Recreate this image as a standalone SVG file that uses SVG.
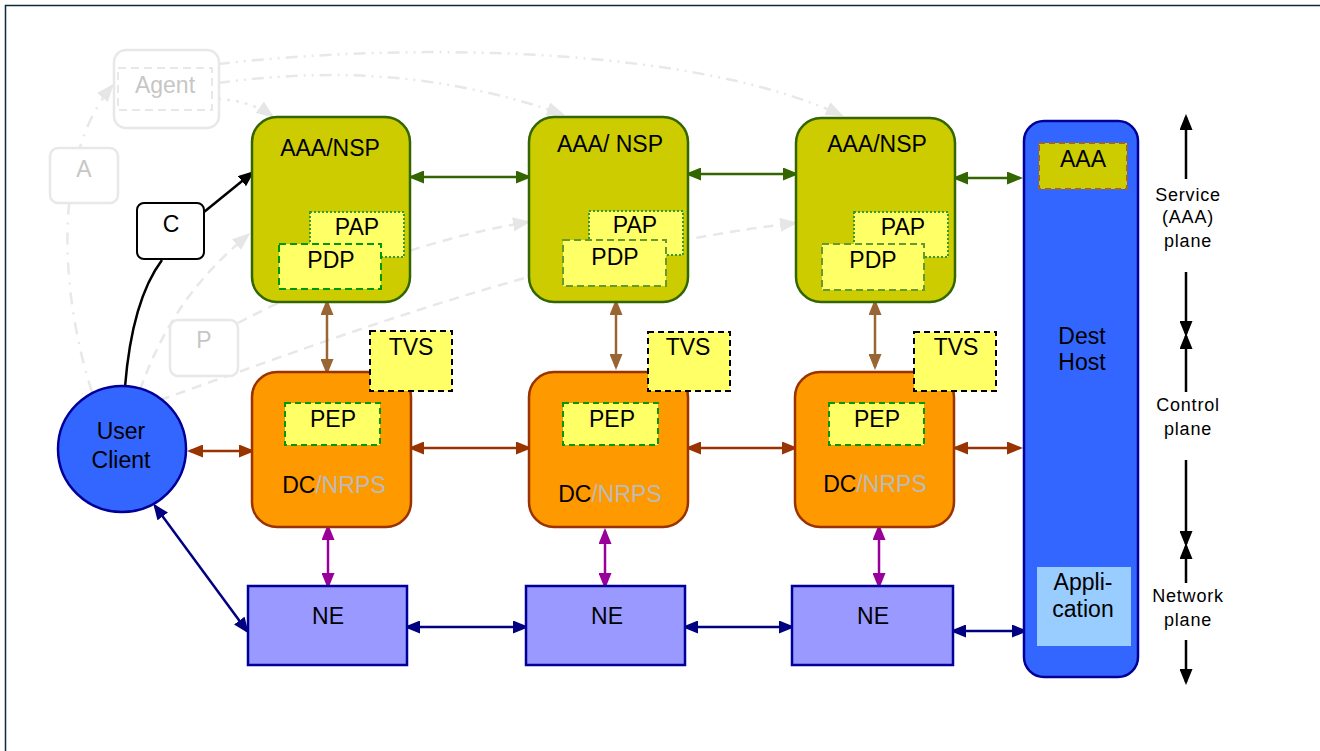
<svg xmlns="http://www.w3.org/2000/svg" width="1320" height="751" viewBox="0 0 1320 751">
  <style>
    text { font-family: "Liberation Sans", Arial, sans-serif; font-size: 23px; fill: #000; text-anchor: middle; }
    .faint-text { fill: #c6c6c6; }
    .plane { font-size: 18px; letter-spacing: 0.8px; }
    .nrps { fill: #bbbbbb; }
    .aaa { fill: #cccc00; stroke: #336600; stroke-width: 2.5; }
    .dc { fill: #ff9900; stroke: #993300; stroke-width: 2.5; }
    .ne { fill: #9999ff; stroke: #000099; stroke-width: 2.5; }
    .pap { fill: #ffff66; stroke: #339933; stroke-width: 2; stroke-dasharray: 2 2; }
    .pdp { fill: #ffff66; stroke: #009900; stroke-width: 2; stroke-dasharray: 7 4; }
    .pdp2 { fill: #ffff66; stroke: #669933; stroke-width: 2; stroke-dasharray: 7 4; }
    .pep { fill: #ffff66; stroke: #009900; stroke-width: 2; stroke-dasharray: 6 4; }
    .tvs { fill: #ffff66; stroke: #000; stroke-width: 2; stroke-dasharray: 6 4; }
    .ghost { fill: #fff; stroke: #e8e8e8; stroke-width: 2.5; }
    .c-green { stroke: #336600; stroke-width: 2.5; fill: none; }
    .c-tan { stroke: #996633; stroke-width: 2.5; fill: none; }
    .c-rust { stroke: #993300; stroke-width: 2.5; fill: none; }
    .c-mag { stroke: #990099; stroke-width: 2.5; fill: none; }
    .c-navy { stroke: #000080; stroke-width: 2.5; fill: none; }
    .c-black { stroke: #000; stroke-width: 2.5; fill: none; }
    .c-faint { stroke: #e8e8e8; stroke-width: 2.5; fill: none; }
    .dash { stroke-dasharray: 10 7; }
    .dashdot { stroke-dasharray: 12 8 2 8; }
    .dashdotdot { stroke-dasharray: 12 6 2 6 2 6; }
    .dotted { stroke-dasharray: 3 6; }
  </style>
  <defs>
    <marker id="ah-green" markerUnits="userSpaceOnUse" viewBox="0 0 16 13" refX="13" refY="6.5" markerWidth="16" markerHeight="13" orient="auto-start-reverse"><path d="M0,0 L16,6.5 L0,13 z" fill="#336600"/></marker>
    <marker id="ah-tan" markerUnits="userSpaceOnUse" viewBox="0 0 16 13" refX="13" refY="6.5" markerWidth="16" markerHeight="13" orient="auto-start-reverse"><path d="M0,0 L16,6.5 L0,13 z" fill="#996633"/></marker>
    <marker id="ah-rust" markerUnits="userSpaceOnUse" viewBox="0 0 16 13" refX="13" refY="6.5" markerWidth="16" markerHeight="13" orient="auto-start-reverse"><path d="M0,0 L16,6.5 L0,13 z" fill="#993300"/></marker>
    <marker id="ah-mag" markerUnits="userSpaceOnUse" viewBox="0 0 16 13" refX="13" refY="6.5" markerWidth="16" markerHeight="13" orient="auto-start-reverse"><path d="M0,0 L16,6.5 L0,13 z" fill="#990099"/></marker>
    <marker id="ah-navy" markerUnits="userSpaceOnUse" viewBox="0 0 16 13" refX="13" refY="6.5" markerWidth="16" markerHeight="13" orient="auto-start-reverse"><path d="M0,0 L16,6.5 L0,13 z" fill="#000080"/></marker>
    <marker id="ah-black" markerUnits="userSpaceOnUse" viewBox="0 0 16 13" refX="13" refY="6.5" markerWidth="16" markerHeight="13" orient="auto-start-reverse"><path d="M0,0 L16,6.5 L0,13 z" fill="#000"/></marker>
    <marker id="ah-faint" markerUnits="userSpaceOnUse" viewBox="0 0 18 14" refX="15" refY="7" markerWidth="18" markerHeight="14" orient="auto"><path d="M0,0 L18,7 L0,14 z" fill="#e6e6e6"/></marker>
  </defs>

  <!-- frame -->
  <path d="M5.5,751 V5.5 H1320" fill="none" stroke="#0d2b3a" stroke-width="1.5"/>

  <!-- connectors (drawn beneath the nodes) -->
  <g id="connectors">
    <!-- faint optional signalling paths -->
    <path class="c-faint dashdot" d="M92,392 C62,300 50,160 112,86" marker-end="url(#ah-faint)"/>
    <path class="c-faint dotted" d="M218,99 C240,100 258,106 272,116" marker-end="url(#ah-faint)"/>
    <path class="c-faint dashdotdot" d="M218,83 C330,68 440,72 562,114" marker-end="url(#ah-faint)"/>
    <path class="c-faint dashdotdot" d="M218,64 C430,40 700,50 841,115" marker-end="url(#ah-faint)"/>
    <path class="c-faint dash" d="M140,390 C165,320 200,275 248,235" marker-end="url(#ah-faint)"/>
    <path class="c-faint dash" d="M238,323 C320,280 420,240 528,222" marker-end="url(#ah-faint)"/>
    <path class="c-faint dash" d="M160,400 C330,340 560,250 795,223" marker-end="url(#ah-faint)"/>

    <!-- client to AAA via C -->
    <path class="c-black" d="M125,387 Q132,300 162,260"/>
    <path class="c-black" d="M204,212 L252,173" marker-end="url(#ah-black)"/>

    <!-- service plane -->
    <path class="c-green" d="M411,177 H529" marker-start="url(#ah-green)" marker-end="url(#ah-green)"/>
    <path class="c-green" d="M688,174 H796" marker-start="url(#ah-green)" marker-end="url(#ah-green)"/>
    <path class="c-green" d="M955,178 H1020" marker-start="url(#ah-green)" marker-end="url(#ah-green)"/>

    <!-- AAA to DC -->
    <path class="c-tan" d="M327,302 V372" marker-start="url(#ah-tan)" marker-end="url(#ah-tan)"/>
    <path class="c-tan" d="M616,302 V367" marker-start="url(#ah-tan)" marker-end="url(#ah-tan)"/>
    <path class="c-tan" d="M875,302 V367" marker-start="url(#ah-tan)" marker-end="url(#ah-tan)"/>

    <!-- control plane -->
    <path class="c-rust" d="M190,451 H252" marker-start="url(#ah-rust)" marker-end="url(#ah-rust)"/>
    <path class="c-rust" d="M411,448 H529" marker-start="url(#ah-rust)" marker-end="url(#ah-rust)"/>
    <path class="c-rust" d="M688,448 H795" marker-start="url(#ah-rust)" marker-end="url(#ah-rust)"/>
    <path class="c-rust" d="M955,448 H1020" marker-start="url(#ah-rust)" marker-end="url(#ah-rust)"/>

    <!-- DC to NE -->
    <path class="c-mag" d="M328,527 V586" marker-start="url(#ah-mag)" marker-end="url(#ah-mag)"/>
    <path class="c-mag" d="M605,531 V586" marker-start="url(#ah-mag)" marker-end="url(#ah-mag)"/>
    <path class="c-mag" d="M879,527 V586" marker-start="url(#ah-mag)" marker-end="url(#ah-mag)"/>

    <!-- network plane -->
    <path class="c-navy" d="M155,506 L247,631" marker-start="url(#ah-navy)" marker-end="url(#ah-navy)"/>
    <path class="c-navy" d="M407,627 H526" marker-start="url(#ah-navy)" marker-end="url(#ah-navy)"/>
    <path class="c-navy" d="M685,627 H792" marker-start="url(#ah-navy)" marker-end="url(#ah-navy)"/>
    <path class="c-navy" d="M953,631 H1025" marker-start="url(#ah-navy)" marker-end="url(#ah-navy)"/>

    <!-- plane scale -->
    <path class="c-black" d="M1186,179 V117" marker-end="url(#ah-black)"/>
    <path class="c-black" d="M1186,272 V334" marker-end="url(#ah-black)"/>
    <path class="c-black" d="M1186,392 V336" marker-end="url(#ah-black)"/>
    <path class="c-black" d="M1186,460 V544" marker-end="url(#ah-black)"/>
    <path class="c-black" d="M1186,583 V546" marker-end="url(#ah-black)"/>
    <path class="c-black" d="M1186,640 V682" marker-end="url(#ah-black)"/>
  </g>

  <!-- faint helper nodes -->
  <g id="agent">
    <rect class="ghost" x="114" y="50" width="105" height="78" rx="12"/>
    <rect x="118" y="68" width="94" height="42" fill="none" stroke="#e8e8e8" stroke-width="2" stroke-dasharray="8 5"/>
    <text class="faint-text" x="165" y="93">Agent</text>
  </g>
  <g id="a-box">
    <rect class="ghost" x="50" y="148" width="68" height="55" rx="8"/>
    <text class="faint-text" x="84" y="177">A</text>
  </g>
  <g id="p-box">
    <rect class="ghost" x="170" y="320" width="68" height="56" rx="8"/>
    <text class="faint-text" x="204" y="348">P</text>
  </g>
  <g id="c-box">
    <rect x="137" y="203" width="67" height="56" rx="7" fill="#fff" stroke="#000" stroke-width="2"/>
    <text x="171" y="232">C</text>
  </g>

  <!-- user client -->
  <g id="user-client">
    <ellipse cx="122" cy="449" rx="64" ry="63" fill="#3366ff" stroke="#000099" stroke-width="2.5"/>
    <text x="121" y="439">User</text>
    <text x="121" y="468">Client</text>
  </g>

  <!-- service plane nodes -->
  <g id="aaa-nsp-1">
    <rect class="aaa" x="252" y="117" width="158" height="185" rx="25"/>
    <text x="330" y="156">AAA/NSP</text>
    <rect class="pap" x="310" y="212" width="94" height="45"/>
    <text x="357" y="235">PAP</text>
    <rect class="pdp" x="279" y="244" width="102" height="45"/>
    <text x="331" y="268">PDP</text>
  </g>
  <g id="aaa-nsp-2">
    <rect class="aaa" x="529" y="117" width="159" height="185" rx="25"/>
    <text x="610" y="152">AAA/ NSP</text>
    <rect class="pap" x="589" y="211" width="94" height="44"/>
    <text x="635" y="233">PAP</text>
    <rect class="pdp2" x="563" y="240" width="103" height="46"/>
    <text x="615" y="265">PDP</text>
  </g>
  <g id="aaa-nsp-3">
    <rect class="aaa" x="796" y="118" width="159" height="184" rx="25"/>
    <text x="877" y="152">AAA/NSP</text>
    <rect class="pap" x="854" y="212" width="94" height="45"/>
    <text x="903" y="235">PAP</text>
    <rect class="pdp2" x="822" y="244" width="102" height="46"/>
    <text x="873" y="268">PDP</text>
  </g>

  <!-- control plane nodes -->
  <g id="dc-1">
    <rect class="dc" x="252" y="372" width="159" height="155" rx="25"/>
    <rect class="pep" x="285" y="403" width="95" height="42"/>
    <text x="333" y="427">PEP</text>
    <text x="334" y="493">DC<tspan class="nrps">/NRPS</tspan></text>
    <rect class="tvs" x="370" y="331" width="82" height="60"/>
    <text x="411" y="355">TVS</text>
  </g>
  <g id="dc-2">
    <rect class="dc" x="529" y="372" width="159" height="155" rx="25"/>
    <rect class="pep" x="563" y="403" width="95" height="42"/>
    <text x="612" y="427">PEP</text>
    <text x="610" y="502">DC<tspan class="nrps">/NRPS</tspan></text>
    <rect class="tvs" x="648" y="332" width="82" height="59"/>
    <text x="688" y="355">TVS</text>
  </g>
  <g id="dc-3">
    <rect class="dc" x="795" y="372" width="159" height="155" rx="25"/>
    <rect class="pep" x="829" y="403" width="95" height="42"/>
    <text x="877" y="427">PEP</text>
    <text x="875" y="492">DC<tspan class="nrps">/NRPS</tspan></text>
    <rect class="tvs" x="914" y="332" width="82" height="59"/>
    <text x="956" y="355">TVS</text>
  </g>

  <!-- network plane nodes -->
  <g id="ne-1">
    <rect class="ne" x="248" y="586" width="159" height="79"/>
    <text x="328" y="624">NE</text>
  </g>
  <g id="ne-2">
    <rect class="ne" x="526" y="586" width="159" height="79"/>
    <text x="607" y="624">NE</text>
  </g>
  <g id="ne-3">
    <rect class="ne" x="792" y="586" width="161" height="79"/>
    <text x="873" y="624">NE</text>
  </g>

  <!-- destination host spanning all planes -->
  <g id="dest-host">
    <rect x="1024" y="121" width="114" height="556" rx="20" fill="#3366ff" stroke="#000099" stroke-width="2.5"/>
    <rect x="1039" y="143" width="88" height="46" fill="#cccc00" stroke="#996633" stroke-width="2" stroke-dasharray="6 4"/>
    <text x="1083" y="167">AAA</text>
    <text x="1082" y="344">Dest</text>
    <text x="1082" y="370">Host</text>
    <rect x="1037" y="567" width="94" height="79" fill="#99ccff"/>
    <text x="1083" y="590">Appli-</text>
    <text x="1083" y="617">cation</text>
  </g>

  <!-- plane labels -->
  <g id="plane-labels">
    <text class="plane" x="1188" y="201">Service</text>
    <text class="plane" x="1188" y="223">(AAA)</text>
    <text class="plane" x="1188" y="247">plane</text>
    <text class="plane" x="1188" y="411">Control</text>
    <text class="plane" x="1188" y="435">plane</text>
    <text class="plane" x="1188" y="602">Network</text>
    <text class="plane" x="1188" y="626">plane</text>
  </g>
</svg>
